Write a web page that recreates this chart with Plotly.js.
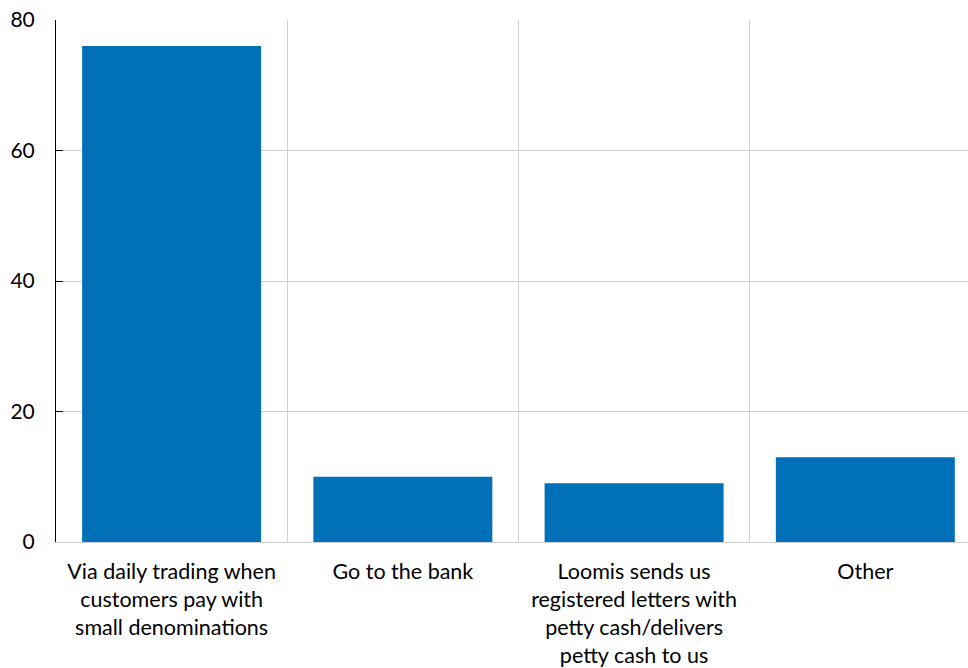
<!DOCTYPE html>
<html>
<head>
<meta charset="utf-8">
<script src="https://cdn.plot.ly/plotly-3.0.1.min.js"></script>
<style>html,body{margin:0;padding:0;background:#fff;}#chart{width:968px;height:668px;}</style>
</head>
<body>
<div id="chart"></div>
<script>
var categories = [
  "Via daily trading when<br>customers pay with<br>small denominations",
  "Go to the bank",
  "Loomis sends us<br>registered letters with<br>petty cash/delivers<br>petty cash to us",
  "Other"
];
var values = [76, 10, 9, 13];
var yTicks = [0, 20, 40, 60, 80];

var trace = {
  type: "bar",
  x: categories,
  y: values,
  marker: {color: "#0070b8", line: {width: 0}},
  hoverinfo: "skip"
};

var layout = {
  width: 968,
  height: 668,
  margin: {l: 56, r: 0, t: 20, b: 126},
  paper_bgcolor: "#ffffff",
  plot_bgcolor: "#ffffff",
  bargap: 0.226,
  font: {family: "Lato, sans-serif", size: 18, color: "#000000"},
  showlegend: false,
  xaxis: {
    type: "category",
    range: [-0.5, 3.444],
    tickson: "boundaries",
    showgrid: true,
    gridcolor: "#d0d0d0",
    gridwidth: 1,
    showline: true,
    linecolor: "#d0d0d0",
    linewidth: 1,
    ticks: "",
    zeroline: false,
    ticklabelstandoff: 10,
    tickfont: {size: 21.5, color: "#000000"},
    automargin: false
  },
  yaxis: {
    range: [0, 80],
    tickvals: yTicks,
    ticktext: yTicks.map(String),
    showgrid: true,
    gridcolor: "#d0d0d0",
    gridwidth: 1,
    showline: true,
    linecolor: "#000000",
    linewidth: 1,
    ticks: "inside",
    ticklen: 7,
    tickcolor: "#000000",
    zeroline: false,
    ticklabelstandoff: 16,
    tickfont: {size: 21, color: "#000000"},
    automargin: false
  }
};

Plotly.newPlot("chart", [trace], layout, {displayModeBar: false, staticPlot: true});
</script>
</body>
</html>
